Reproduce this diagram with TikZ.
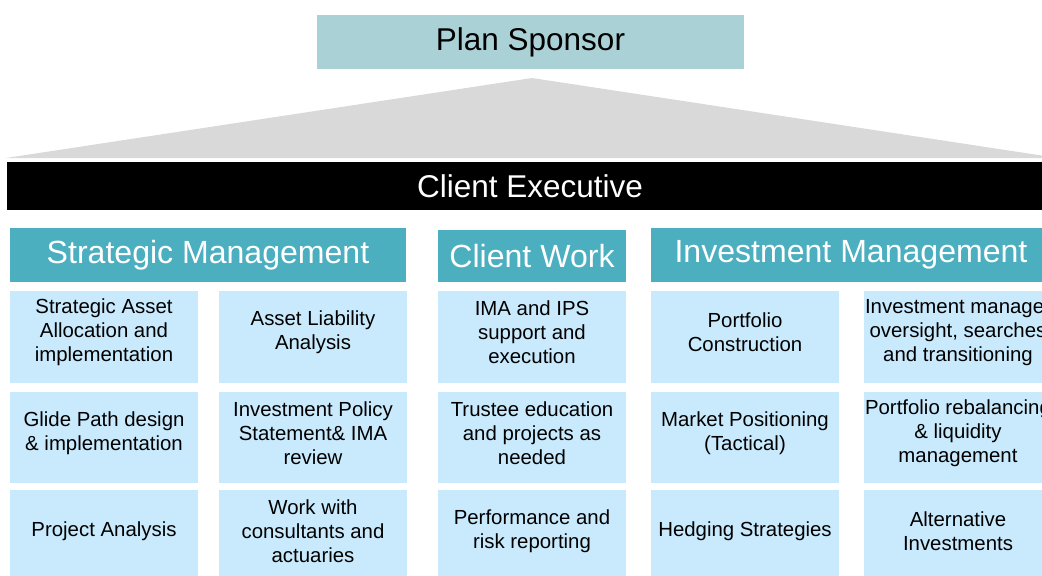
\documentclass[tikz,border=0pt]{standalone}
\usepackage{fontspec}
\setmainfont{Liberation Sans}
\usepackage{xcolor}
\definecolor{sponsor}{RGB}{170,209,214}
\definecolor{teal}{RGB}{75,175,192}
\definecolor{taskblue}{RGB}{200,234,252}
\definecolor{roof}{RGB}{217,217,217}
\tikzstyle{task}=[fill=taskblue, minimum width=4.7cm, minimum height=2.28cm, inner sep=0pt]
\tikzset{tasktext/.style={align=center, yshift=.11cm, font=\fontsize{14.5}{17}\selectfont}}
\tikzstyle{header}=[fill=teal, text=white, minimum height=1.35cm, inner sep=0pt, font=\fontsize{22.8}{27}\selectfont]
\tikzset{top/.style={minimum height=1.35cm, inner sep=0pt, font=\fontsize{22.4}{27}\selectfont}}

\begin{document}
\begin{tikzpicture}[x=0.025cm,y=-0.025cm]
  \useasboundingbox (0,0) rectangle (1042,575);
  \draw (530.5,42) node[top,fill=sponsor,minimum width=10.675cm] (sponsor) {Plan Sponsor};
  \fill[roof] (6,158) -- (532,78) -- (1058,158) -- cycle;
  \draw (530,186) node[top,fill=black,text=white,minimum width=26.15cm,minimum height=1.2cm] (exec) {Client Executive};

  %% Headers
  \draw (208,255) node[header,minimum width=9.9cm] (SM) {Strategic Management};
  \draw (532,256) node[header,minimum width=4.7cm,minimum height=1.3cm] (CW) {Client Work};
  \draw (851,255) node[header,minimum width=10cm] (IM) {Investment Management};

  %% Strategic Management
  \draw (104,337) node[task,label={[tasktext]center:{Strategic Asset\\Allocation and\\implementation}}] (T11) {};
  \draw (313,337) node[task,label={[tasktext]center:{Asset Liability\\Analysis}}] (T12) {};
  \draw (104,437.5) node[task,label={[tasktext]center:{Glide Path design\\\& implementation}}] (T21) {};
  \draw (313,437.5) node[task,label={[tasktext]center:{Investment Policy\\Statement\& IMA\\review}}] (T22) {};
  \draw (104,535.5) node[task,label={[tasktext]center:{Project Analysis}}] (T31) {};
  \draw (313,535.5) node[task,label={[tasktext]center:{Work with\\consultants and\\actuaries}}] (T32) {};

  %% Client Work
  \draw (532,337) node[task,label={[tasktext]center:{IMA and IPS\\support and\\execution}}] (T13) {};
  \draw (532,437.5) node[task,label={[tasktext]center:{Trustee education\\and projects as\\needed}}] (T23) {};
  \draw (532,535.5) node[task,label={[tasktext]center:{Performance and\\risk reporting}}] (T33) {};

  %% Investment Management
  \draw (745,337) node[task,label={[tasktext]center:{Portfolio\\Construction}}] (T14) {};
  \draw (958,337) node[task,label={[tasktext]center:{Investment manager\\oversight, searches\\and transitioning}}] (T15) {};
  \draw (745,437.5) node[task,label={[tasktext]center:{Market Positioning\\(Tactical)}}] (T24) {};
  \draw (958,437.5) node[task,label={[tasktext]center:{Portfolio rebalancing\\\& liquidity\\management}}] (T25) {};
  \draw (745,535.5) node[task,label={[tasktext]center:{Hedging Strategies}}] (T34) {};
  \draw (958,535.5) node[task,label={[tasktext]center:{Alternative\\Investments}}] (T35) {};
\end{tikzpicture}
\end{document}
